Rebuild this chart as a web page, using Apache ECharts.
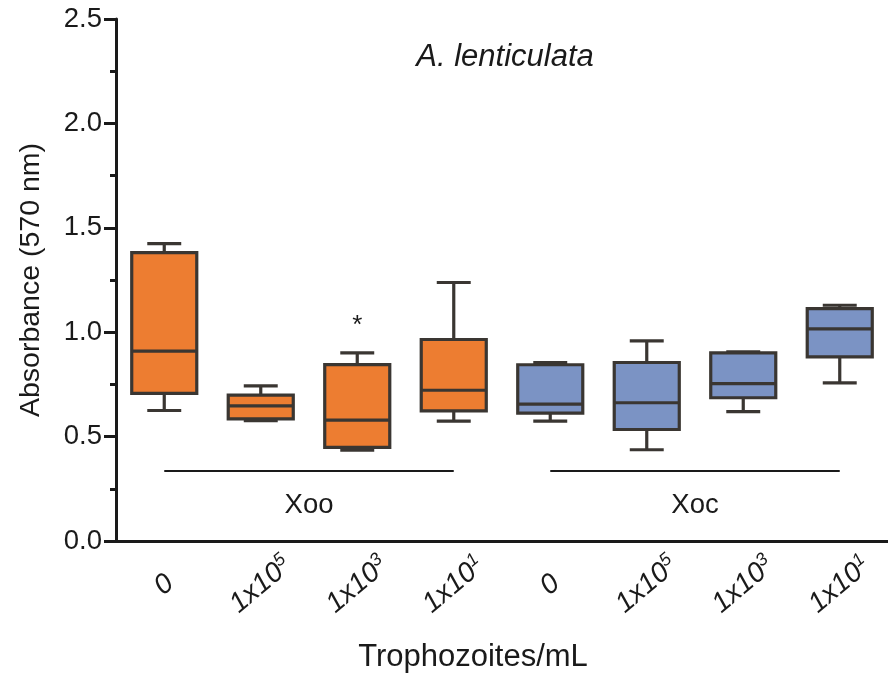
<!DOCTYPE html>
<html><head><meta charset="utf-8">
<script src="https://cdn.jsdelivr.net/npm/echarts@6/dist/echarts.min.js"></script>
<style>html,body{margin:0;padding:0;background:#fff}#c{width:888px;height:681px}</style>
</head><body><div id="c"></div>
<script>
// ---- data ----
const categories = ['0','1x10^5','1x10^3','1x10^1','0','1x10^5','1x10^3','1x10^1'];
const whiskerMin = [0.625,0.576,0.435,0.574,0.574,0.437,0.620,0.757];
const q1         = [0.707,0.585,0.448,0.623,0.612,0.534,0.686,0.882];
const median     = [0.909,0.647,0.579,0.722,0.656,0.662,0.754,1.016];
const q3         = [1.381,0.699,0.845,0.965,0.844,0.855,0.901,1.113];
const whiskerMax = [1.424,0.743,0.901,1.238,0.855,0.958,0.906,1.129];
const groupNames = ['Xoo','Xoc'];
const groupStart = [0,4];
const groupEnd = [3,7];
const groupLineValue = [0.335,0.335];
const groupLabelValue = [0.172,0.172];
const starCategory = [2];
const starValue = [1.03];
const starText = ['*'];

// ---- style ----
const FONT = '"Liberation Sans", Arial, sans-serif';
const EDGE = '#3a3632';
const TXT = '#1a1a1a';
const fills = ['#ED7D31','#ED7D31','#ED7D31','#ED7D31','#7B93C4','#7B93C4','#7B93C4','#7B93C4'];

const chart = echarts.init(document.getElementById('c'));
const boxData = categories.map((c,i)=>[i, whiskerMin[i], q1[i], median[i], q3[i], whiskerMax[i]]);
const groupData = groupNames.map((g,i)=>[groupStart[i], groupEnd[i], groupLineValue[i], groupLabelValue[i]]);
const starData = starCategory.map((c,i)=>[c, starValue[i]]);

function labelFmt(v, idx){
  const s = categories[idx];
  const p = s.split('^');
  if (p.length === 1) return '{b|' + p[0] + '}';
  return '{b|' + p[0] + '}{s|' + p[1] + '}';
}

chart.setOption({
  backgroundColor: '#ffffff',
  animation: false,
  grid: {left: 116, right: 0, top: 19, bottom: 140, containLabel: false},
  graphic: [{
    type: 'text', x: 505, y: 57,
    style: {text: 'A. lenticulata', fontFamily: FONT, fontSize: 31, fontStyle: 'italic',
            fill: TXT, align: 'center', verticalAlign: 'middle', textAlign: 'center', textVerticalAlign: 'middle'}
  }],
  xAxis: {
    type: 'category', data: categories, boundaryGap: true,
    name: 'Trophozoites/mL', nameLocation: 'middle', nameGap: 101,
    nameTextStyle: {fontFamily: FONT, fontSize: 31, color: TXT, padding: [0,58,0,0]},
    axisLine: {lineStyle: {color: TXT, width: 3}},
    axisTick: {alignWithLabel: true, length: 10, lineStyle: {color: TXT, width: 3}},
    axisLabel: {
      interval: 0, rotate: 40, margin: 44, align: 'center', verticalAlign: 'middle',
      formatter: labelFmt,
      rich: {
        b: {fontFamily: FONT, fontSize: 28, fontStyle: 'italic', color: TXT, lineHeight: 32},
        s: {fontFamily: FONT, fontSize: 18, fontStyle: 'italic', color: TXT, verticalAlign: 'top', lineHeight: 32}
      }
    },
    splitLine: {show: false}
  },
  yAxis: {
    type: 'value', min: 0, max: 2.5, interval: 0.5,
    name: 'Absorbance (570 nm)', nameLocation: 'middle', nameGap: 70,
    nameTextStyle: {fontFamily: FONT, fontSize: 28.5, color: TXT},
    axisLine: {show: true, lineStyle: {color: TXT, width: 3}},
    axisTick: {show: true, length: 12, lineStyle: {color: TXT, width: 3}},
    minorTick: {show: true, splitNumber: 2, length: 6, lineStyle: {color: TXT, width: 3}},
    axisLabel: {fontFamily: FONT, fontSize: 27.5, color: TXT, margin: 14, formatter: v => v.toFixed(1)},
    splitLine: {show: false}
  },
  series: [
    {
      type: 'custom', name: 'box', data: boxData,
      encode: {x: 0, y: [1,2,3,4,5]},
      renderItem: function(params, api){
        const i = api.value(0);
        const lo = api.coord([i, api.value(1)]);
        const b1 = api.coord([i, api.value(2)]);
        const md = api.coord([i, api.value(3)]);
        const b3 = api.coord([i, api.value(4)]);
        const hi = api.coord([i, api.value(5)]);
        const band = api.size([1,0])[0];
        const hw = band*0.337, cw = band*0.176;
        const x = md[0];
        const st = {stroke: EDGE, lineWidth: 3.2, fill: null};
        return {type:'group', children:[
          {type:'line', shape:{x1:x,y1:hi[1],x2:x,y2:b3[1]}, style: st},
          {type:'line', shape:{x1:x,y1:b1[1],x2:x,y2:lo[1]}, style: st},
          {type:'line', shape:{x1:x-cw,y1:hi[1],x2:x+cw,y2:hi[1]}, style: st},
          {type:'line', shape:{x1:x-cw,y1:lo[1],x2:x+cw,y2:lo[1]}, style: st},
          {type:'rect', shape:{x:x-hw,y:b3[1],width:2*hw,height:b1[1]-b3[1]},
            style:{fill: fills[params.dataIndex], stroke: EDGE, lineWidth: 3.2}},
          {type:'line', shape:{x1:x-hw,y1:md[1],x2:x+hw,y2:md[1]}, style: st}
        ]};
      }
    },
    {
      type: 'custom', name: 'groups', data: groupData,
      encode: {x: [0,1], y: [2,3]},
      renderItem: function(params, api){
        const p1 = api.coord([api.value(0), api.value(2)]);
        const p2 = api.coord([api.value(1), api.value(2)]);
        const pl = api.coord([api.value(0), api.value(3)]);
        return {type:'group', children:[
          {type:'line', shape:{x1:p1[0],y1:p1[1],x2:p2[0],y2:p2[1]}, style:{stroke: TXT, lineWidth: 2}},
          {type:'text', x:(p1[0]+p2[0])/2, y:pl[1],
            style:{text: groupNames[params.dataIndex], fontFamily: FONT, fontSize: 27.5, fill: TXT,
                   align:'center', verticalAlign:'middle'}}
        ]};
      }
    },
    {
      type: 'custom', name: 'stars', data: starData,
      encode: {x: 0, y: 1},
      renderItem: function(params, api){
        const p = api.coord([api.value(0), api.value(1)]);
        return {type:'text', x:p[0], y:p[1],
          style:{text: starText[params.dataIndex], fontFamily: FONT, fontSize: 26, fill: TXT,
                 align:'center', verticalAlign:'middle'}};
      }
    }
  ]
});
</script></body></html>
